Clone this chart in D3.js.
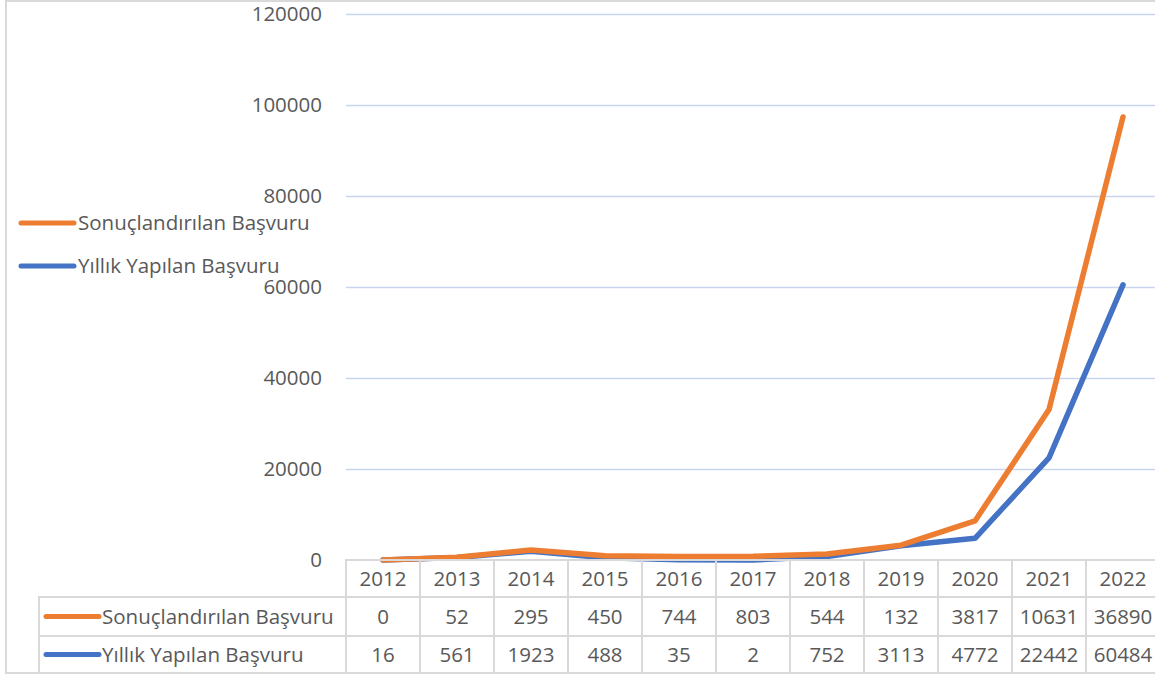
<!DOCTYPE html>
<html lang="tr">
  <head>
    <meta charset="UTF-8"/>
    <title>Başvurular</title>
    <script src="https://d3js.org/d3.v7.min.js"></script>
    <style>
      body { margin: 0; background: #fff; }
      text {
        font-family: 'Open Sans', sans-serif;
        font-size: 20.5px;
        fill: #595959;
      }
      .grid line { stroke: #c9d5ee; stroke-width: 1.3px; }
      .cell { fill: none; stroke: #d9d9d9; stroke-width: 2px; }
    </style>
  </head>
  <body>
    <script>
      const years = ["2012", "2013", "2014", "2015", "2016", "2017", "2018", "2019", "2020", "2021", "2022"]
      const seriesNames = ["Sonuçlandırılan Başvuru", "Yıllık Yapılan Başvuru"]
      const sonuclandirilan = [0, 52, 295, 450, 744, 803, 544, 132, 3817, 10631, 36890]
      const yillik = [16, 561, 1923, 488, 35, 2, 752, 3113, 4772, 22442, 60484]
      const yTicks = [0, 20000, 40000, 60000, 80000, 100000, 120000]
      const colors = ["#ed7d31", "#4472c4"]

      const outerWidth = 1155, outerHeight = 677
      const plot = {left: 346, right: 1160, top: 14, bottom: 560}
      const rowH = [37, 39, 37]

      const svg = d3.select("body").append("svg")
          .attr("width", outerWidth)
          .attr("height", outerHeight)

      const x = d3.scaleBand().domain(years).range([plot.left, plot.right])
      const y = d3.scaleLinear().domain([0, 120000]).range([plot.bottom, plot.top])

      // gridlines + y labels
      svg.append("g")
          .attr("class", "grid")
          .attr("transform", `translate(${plot.left},0)`)
          .call(d3.axisLeft(y).tickValues(yTicks.slice(1)).tickSize(-(plot.right - plot.left)).tickFormat(""))
          .call(g => g.select(".domain").remove())
          .call(g => g.selectAll(".tick line").filter(d => d === 120000).attr("stroke", "#eef2fa"))

      svg.append("g")
          .attr("transform", "translate(322,0)")
          .call(d3.axisLeft(y).tickValues(yTicks).tickSize(0).tickPadding(0).tickFormat(d3.format("d")))
          .call(g => g.select(".domain").remove())
          .call(g => g.selectAll("text").attr("fill", "#595959").attr("font-size", 20.5).attr("font-family", "'Open Sans', sans-serif"))

      // stacked lines: blue first, orange on top
      const blueVals = yillik
      const orangeVals = yillik.map((v, i) => v + sonuclandirilan[i])
      const line = d3.line()
          .x((d, i) => x(years[i]) + x.bandwidth() / 2)
          .y(d => y(d))

      svg.append("path")
          .attr("d", line(blueVals))
          .attr("fill", "none").attr("stroke", colors[1])
          .attr("stroke-width", 5.5).attr("stroke-linejoin", "round").attr("stroke-linecap", "round")
      svg.append("path")
          .attr("d", line(orangeVals))
          .attr("fill", "none").attr("stroke", colors[0])
          .attr("stroke-width", 5.5).attr("stroke-linejoin", "round").attr("stroke-linecap", "round")

      // data table
      const table = svg.append("g")
      const rowTop = [plot.bottom, plot.bottom + rowH[0], plot.bottom + rowH[0] + rowH[1]]
      const tableLeft = 39

      years.forEach(yr => {
        rowTop.forEach((t, r) => {
          table.append("rect").attr("class", "cell")
              .attr("x", x(yr)).attr("y", t)
              .attr("width", x.bandwidth()).attr("height", rowH[r])
        })
        table.append("text")
            .attr("x", x(yr) + x.bandwidth() / 2).attr("y", rowTop[0] + rowH[0] / 2)
            .attr("dy", "0.35em").attr("text-anchor", "middle").text(yr)
      })

      const rows = [sonuclandirilan, yillik]
      rows.forEach((vals, r) => {
        const t = rowTop[r + 1], h = rowH[r + 1]
        table.append("rect").attr("class", "cell")
            .attr("x", tableLeft).attr("y", t)
            .attr("width", plot.left - tableLeft).attr("height", h)
        table.append("line")
            .attr("x1", 46).attr("x2", 99).attr("y1", t + h / 2).attr("y2", t + h / 2)
            .attr("stroke", colors[r]).attr("stroke-width", 5).attr("stroke-linecap", "round")
        table.append("text")
            .attr("x", 102).attr("y", t + h / 2).attr("dy", "0.35em")
            .text(seriesNames[r])
        vals.forEach((v, i) => {
          table.append("text")
              .attr("x", x(years[i]) + x.bandwidth() / 2).attr("y", t + h / 2)
              .attr("dy", "0.35em").attr("text-anchor", "middle").text(v)
        })
      })

      // legend
      const legend = svg.append("g")
      seriesNames.forEach((name, i) => {
        const ly = 223 + i * 43
        legend.append("line")
            .attr("x1", 21).attr("x2", 74).attr("y1", ly).attr("y2", ly)
            .attr("stroke", colors[i]).attr("stroke-width", 5).attr("stroke-linecap", "round")
        legend.append("text")
            .attr("x", 78).attr("y", ly).attr("dy", "0.35em").text(name)
      })

      // chart border
      svg.append("rect")
          .attr("x", 6).attr("y", 1)
          .attr("width", outerWidth).attr("height", 672)
          .attr("fill", "none").attr("stroke", "#d9d9d9").attr("stroke-width", 2)
    </script>
  </body>
</html>
